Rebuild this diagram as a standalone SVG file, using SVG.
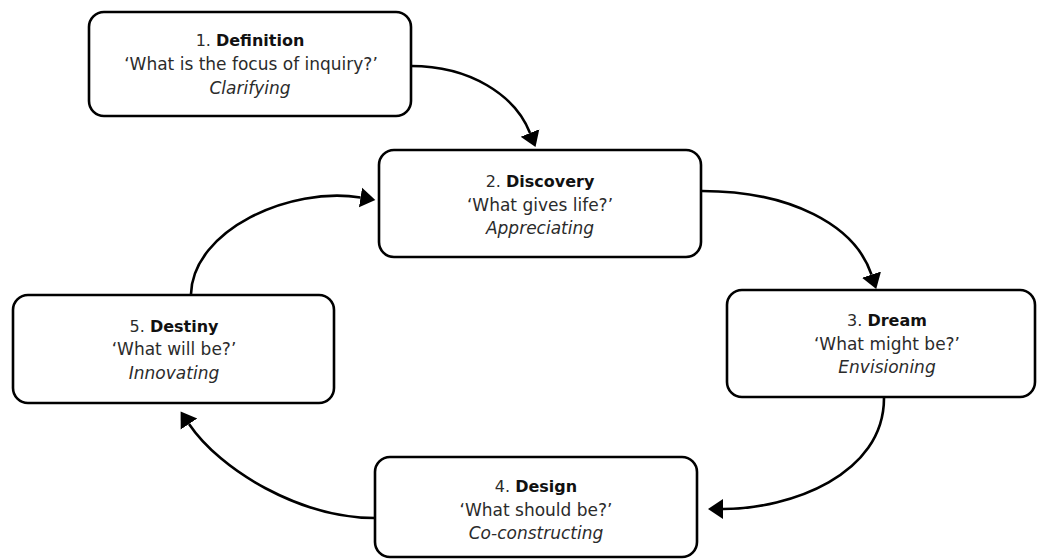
<svg xmlns="http://www.w3.org/2000/svg" width="1037" height="560" viewBox="0 0 1037 560">
<style>
.box{fill:#fff;stroke:#000;stroke-width:2.6}
.t{font-family:"DejaVu Sans","Liberation Sans",sans-serif;fill:#2b2b2b;text-anchor:middle}
.h{font-size:16px}
.q{font-size:17px}
.i{font-size:17px;font-style:italic}
.b{font-weight:bold;fill:#111}
.c{fill:none;stroke:#000;stroke-width:2.6}
</style>
<defs>
<marker id="ah" markerUnits="userSpaceOnUse" markerWidth="17" markerHeight="22" viewBox="0 -11 17 22" refX="0" refY="0" orient="auto">
<path d="M0,-10 L15,0 L0,10 Z" fill="#000"/>
</marker>
</defs>
<rect width="1037" height="560" fill="#fff"/>
<g id="connectors">
<path class="c" d="M411,66 C470,66 515,95 530,133" marker-end="url(#ah)"/>
<path class="c" d="M702,191 C790,191 855,225 871.5,274.7" marker-end="url(#ah)"/>
<path class="c" d="M884,398 C884,475 790,509 723,509" marker-end="url(#ah)"/>
<path class="c" d="M375,518 C300,518 220,470 189,424" marker-end="url(#ah)"/>
<path class="c" d="M191,294 C193,230 290,186 360.5,197.5" marker-end="url(#ah)"/>
</g>
<g id="node1">
<rect class="box" x="89" y="12" width="322" height="104" rx="15"/>
<text class="t h" x="250" y="46">1. <tspan class="b">Definition</tspan></text>
<text class="t q" x="251" y="70">‘What is the focus of inquiry?’</text>
<text class="t i" x="250" y="94">Clarifying</text>
</g>
<g id="node2">
<rect class="box" x="379" y="150" width="322" height="107" rx="15"/>
<text class="t h" x="540" y="187">2. <tspan class="b">Discovery</tspan></text>
<text class="t q" x="540" y="210.5">‘What gives life?’</text>
<text class="t i" x="540" y="233.5">Appreciating</text>
</g>
<g id="node3">
<rect class="box" x="727" y="290" width="308" height="107" rx="15"/>
<text class="t h" x="887" y="326">3. <tspan class="b">Dream</tspan></text>
<text class="t q" x="887" y="350">‘What might be?’</text>
<text class="t i" x="887" y="373">Envisioning</text>
</g>
<g id="node4">
<rect class="box" x="375" y="457" width="322" height="100" rx="15"/>
<text class="t h" x="536" y="492">4. <tspan class="b">Design</tspan></text>
<text class="t q" x="536" y="516">‘What should be?’</text>
<text class="t i" x="536" y="539">Co-constructing</text>
</g>
<g id="node5">
<rect class="box" x="13" y="295" width="321" height="108" rx="15"/>
<text class="t h" x="174" y="332">5. <tspan class="b">Destiny</tspan></text>
<text class="t q" x="174" y="355">‘What will be?’</text>
<text class="t i" x="174" y="379">Innovating</text>
</g>
</svg>
